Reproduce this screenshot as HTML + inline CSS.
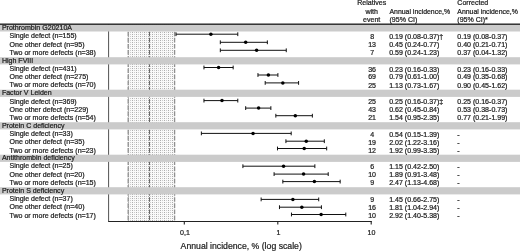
<!DOCTYPE html><html><head><meta charset="utf-8"><title>Annual incidence forest plot</title>
<style>html,body{margin:0;padding:0;background:#fff}svg{display:block}text{font-family:"Liberation Sans",Arial,sans-serif;fill:#1a1a1a;stroke:#222;stroke-width:0.22px}</style></head><body>
<svg width="520" height="252" viewBox="0 0 520 252">
<defs><pattern id="dots" x="0" y="0" width="4" height="2" patternUnits="userSpaceOnUse"><rect width="4" height="2" fill="#f9f9f9"/><rect x="0" y="0" width="1" height="1" fill="#adadad"/><rect x="2" y="0" width="1" height="1" fill="#cdcdcd"/></pattern></defs>
<rect width="520" height="252" fill="#fff"/>
<rect x="127.5" y="24.5" width="47" height="197" fill="url(#dots)"/>
<line x1="128.2" y1="25.5" x2="128.2" y2="221.5" stroke="#909090" stroke-width="1.3" stroke-dasharray="4.7,1.43"/>
<line x1="149.5" y1="25.5" x2="149.5" y2="221.5" stroke="#666" stroke-width="1.0" stroke-dasharray="4.7,1.43"/>
<line x1="174.6" y1="25.5" x2="174.6" y2="221.5" stroke="#909090" stroke-width="1.3" stroke-dasharray="4.7,1.43"/>
<line x1="108.6" y1="24.5" x2="108.6" y2="221.5" stroke="#333" stroke-width="0.85"/>
<line x1="108.2" y1="221.5" x2="371.7" y2="221.5" stroke="#222" stroke-width="1.2"/>
<line x1="184.30" y1="221" x2="184.30" y2="224.6" stroke="#222" stroke-width="1.1"/>
<line x1="277.80" y1="221" x2="277.80" y2="224.6" stroke="#222" stroke-width="1.1"/>
<line x1="371.20" y1="221" x2="371.20" y2="224.6" stroke="#222" stroke-width="1.1"/>
<rect x="0" y="24.70" width="520" height="6.80" fill="#cbcbcb"/>
<rect x="0" y="57.20" width="520" height="7.20" fill="#cbcbcb"/>
<rect x="0" y="89.70" width="520" height="7.20" fill="#cbcbcb"/>
<rect x="0" y="122.20" width="520" height="7.20" fill="#cbcbcb"/>
<rect x="0" y="154.70" width="520" height="7.20" fill="#cbcbcb"/>
<rect x="0" y="187.20" width="520" height="7.20" fill="#cbcbcb"/>
<rect x="0" y="23.5" width="520" height="1.4" fill="#222"/>
<text x="1.9" y="30.00" font-size="7.05">Prothrombin G20210A</text>
<text x="9.5" y="38.00" font-size="7.05">Single defect (n=155)</text>
<text x="372.1" y="39.00" font-size="7.05" text-anchor="middle">8</text>
<text x="389.2" y="39.00" font-size="7.05">0.19 (0.08-0.37)†</text>
<text x="457.3" y="39.00" font-size="7.05">0.19 (0.08-0.37)</text>
<line x1="176.00" y1="34.20" x2="237.79" y2="34.20" stroke="#111" stroke-width="1"/>
<line x1="176.00" y1="32.30" x2="176.00" y2="36.10" stroke="#111" stroke-width="1"/>
<line x1="237.79" y1="32.30" x2="237.79" y2="36.10" stroke="#111" stroke-width="1"/>
<circle cx="210.90" cy="34.20" r="1.75" fill="#000"/>
<text x="9.5" y="47.00" font-size="7.05">One other defect (n=95)</text>
<text x="372.1" y="47.00" font-size="7.05" text-anchor="middle">13</text>
<text x="389.2" y="47.00" font-size="7.05">0.45 (0.24-0.77)</text>
<text x="457.3" y="47.00" font-size="7.05">0.40 (0.21-0.71)</text>
<line x1="220.32" y1="42.30" x2="267.35" y2="42.30" stroke="#111" stroke-width="1"/>
<line x1="220.32" y1="40.40" x2="220.32" y2="44.20" stroke="#111" stroke-width="1"/>
<line x1="267.35" y1="40.40" x2="267.35" y2="44.20" stroke="#111" stroke-width="1"/>
<circle cx="245.68" cy="42.30" r="1.75" fill="#000"/>
<text x="9.5" y="55.00" font-size="7.05">Two or more defects (n=38)</text>
<text x="372.1" y="55.00" font-size="7.05" text-anchor="middle">7</text>
<text x="389.2" y="55.00" font-size="7.05">0.59 (0.24-1.23)</text>
<text x="457.3" y="55.00" font-size="7.05">0.37 (0.04-1.32)</text>
<line x1="220.32" y1="50.30" x2="286.25" y2="50.30" stroke="#111" stroke-width="1"/>
<line x1="220.32" y1="48.40" x2="220.32" y2="52.20" stroke="#111" stroke-width="1"/>
<line x1="286.25" y1="48.40" x2="286.25" y2="52.20" stroke="#111" stroke-width="1"/>
<circle cx="256.61" cy="50.30" r="1.75" fill="#000"/>
<text x="1.9" y="63.00" font-size="7.05">High FVIII</text>
<text x="9.5" y="71.00" font-size="7.05">Single defect (n=431)</text>
<text x="372.1" y="72.00" font-size="7.05" text-anchor="middle">36</text>
<text x="389.2" y="72.00" font-size="7.05">0.23 (0.16-0.33)</text>
<text x="457.3" y="72.00" font-size="7.05">0.23 (0.16-0.33)</text>
<line x1="203.96" y1="67.50" x2="233.17" y2="67.50" stroke="#111" stroke-width="1"/>
<line x1="203.96" y1="65.60" x2="203.96" y2="69.40" stroke="#111" stroke-width="1"/>
<line x1="233.17" y1="65.60" x2="233.17" y2="69.40" stroke="#111" stroke-width="1"/>
<circle cx="218.60" cy="67.50" r="1.75" fill="#000"/>
<text x="9.5" y="79.00" font-size="7.05">One other defect (n=275)</text>
<text x="372.1" y="79.00" font-size="7.05" text-anchor="middle">69</text>
<text x="389.2" y="79.00" font-size="7.05">0.79 (0.61-1.00)</text>
<text x="457.3" y="79.00" font-size="7.05">0.49 (0.35-0.68)</text>
<line x1="257.96" y1="75.00" x2="277.90" y2="75.00" stroke="#111" stroke-width="1"/>
<line x1="257.96" y1="73.10" x2="257.96" y2="76.90" stroke="#111" stroke-width="1"/>
<line x1="277.90" y1="73.10" x2="277.90" y2="76.90" stroke="#111" stroke-width="1"/>
<circle cx="268.39" cy="75.00" r="1.75" fill="#000"/>
<text x="9.5" y="87.00" font-size="7.05">Two or more defects (n=70)</text>
<text x="372.1" y="88.00" font-size="7.05" text-anchor="middle">25</text>
<text x="389.2" y="88.00" font-size="7.05">1.13 (0.73-1.67)</text>
<text x="457.3" y="88.00" font-size="7.05">0.90 (0.45-1.62)</text>
<line x1="265.20" y1="82.90" x2="298.59" y2="82.90" stroke="#111" stroke-width="1"/>
<line x1="265.20" y1="81.00" x2="265.20" y2="84.80" stroke="#111" stroke-width="1"/>
<line x1="298.59" y1="81.00" x2="298.59" y2="84.80" stroke="#111" stroke-width="1"/>
<circle cx="282.83" cy="82.90" r="1.75" fill="#000"/>
<text x="1.9" y="95.00" font-size="7.05">Factor V Leiden</text>
<text x="9.5" y="104.00" font-size="7.05">Single defect (n=369)</text>
<text x="372.1" y="104.00" font-size="7.05" text-anchor="middle">25</text>
<text x="389.2" y="104.00" font-size="7.05">0.25 (0.16-0.37)‡</text>
<text x="457.3" y="104.00" font-size="7.05">0.25 (0.16-0.37)</text>
<line x1="203.96" y1="100.60" x2="237.79" y2="100.60" stroke="#111" stroke-width="1"/>
<line x1="203.96" y1="98.70" x2="203.96" y2="102.50" stroke="#111" stroke-width="1"/>
<line x1="237.79" y1="98.70" x2="237.79" y2="102.50" stroke="#111" stroke-width="1"/>
<circle cx="221.97" cy="100.60" r="1.75" fill="#000"/>
<text x="9.5" y="112.00" font-size="7.05">One other defect (n=229)</text>
<text x="372.1" y="112.00" font-size="7.05" text-anchor="middle">43</text>
<text x="389.2" y="112.00" font-size="7.05">0.62 (0.45-0.84)</text>
<text x="457.3" y="112.00" font-size="7.05">0.53 (0.38-0.73)</text>
<line x1="245.68" y1="108.10" x2="270.87" y2="108.10" stroke="#111" stroke-width="1"/>
<line x1="245.68" y1="106.20" x2="245.68" y2="110.00" stroke="#111" stroke-width="1"/>
<line x1="270.87" y1="106.20" x2="270.87" y2="110.00" stroke="#111" stroke-width="1"/>
<circle cx="258.61" cy="108.10" r="1.75" fill="#000"/>
<text x="9.5" y="120.00" font-size="7.05">Two or more defects (n=54)</text>
<text x="372.1" y="120.00" font-size="7.05" text-anchor="middle">21</text>
<text x="389.2" y="120.00" font-size="7.05">1.54 (0.95-2.35)</text>
<text x="457.3" y="120.00" font-size="7.05">0.77 (0.21-1.99)</text>
<line x1="275.83" y1="115.70" x2="312.37" y2="115.70" stroke="#111" stroke-width="1"/>
<line x1="275.83" y1="113.80" x2="275.83" y2="117.60" stroke="#111" stroke-width="1"/>
<line x1="312.37" y1="113.80" x2="312.37" y2="117.60" stroke="#111" stroke-width="1"/>
<circle cx="295.32" cy="115.70" r="1.75" fill="#000"/>
<text x="1.9" y="128.00" font-size="7.05">Protein C deficiency</text>
<text x="9.5" y="136.00" font-size="7.05">Single defect (n=33)</text>
<text x="372.1" y="137.00" font-size="7.05" text-anchor="middle">4</text>
<text x="389.2" y="137.00" font-size="7.05">0.54 (0.15-1.39)</text>
<text x="457.3" y="137.00" font-size="7.05">-</text>
<line x1="201.36" y1="133.40" x2="291.19" y2="133.40" stroke="#111" stroke-width="1"/>
<line x1="201.36" y1="131.50" x2="201.36" y2="135.30" stroke="#111" stroke-width="1"/>
<line x1="291.19" y1="131.50" x2="291.19" y2="135.30" stroke="#111" stroke-width="1"/>
<circle cx="253.04" cy="133.40" r="1.75" fill="#000"/>
<text x="9.5" y="144.00" font-size="7.05">One other defect (n=35)</text>
<text x="372.1" y="145.00" font-size="7.05" text-anchor="middle">19</text>
<text x="389.2" y="145.00" font-size="7.05">2.02 (1.22-3.16)</text>
<text x="457.3" y="145.00" font-size="7.05">-</text>
<line x1="285.92" y1="141.20" x2="324.32" y2="141.20" stroke="#111" stroke-width="1"/>
<line x1="285.92" y1="139.30" x2="285.92" y2="143.10" stroke="#111" stroke-width="1"/>
<line x1="324.32" y1="139.30" x2="324.32" y2="143.10" stroke="#111" stroke-width="1"/>
<circle cx="306.27" cy="141.20" r="1.75" fill="#000"/>
<text x="9.5" y="153.00" font-size="7.05">Two or more defects (n=23)</text>
<text x="372.1" y="153.00" font-size="7.05" text-anchor="middle">12</text>
<text x="389.2" y="153.00" font-size="7.05">1.92 (0.99-3.35)</text>
<text x="457.3" y="153.00" font-size="7.05">-</text>
<line x1="277.49" y1="148.50" x2="326.68" y2="148.50" stroke="#111" stroke-width="1"/>
<line x1="277.49" y1="146.60" x2="277.49" y2="150.40" stroke="#111" stroke-width="1"/>
<line x1="326.68" y1="146.60" x2="326.68" y2="150.40" stroke="#111" stroke-width="1"/>
<circle cx="304.22" cy="148.50" r="1.75" fill="#000"/>
<text x="1.9" y="160.00" font-size="7.05">Antithrombin deficiency</text>
<text x="9.5" y="168.00" font-size="7.05">Single defect (n=25)</text>
<text x="372.1" y="169.00" font-size="7.05" text-anchor="middle">6</text>
<text x="389.2" y="169.00" font-size="7.05">1.15 (0.42-2.50)</text>
<text x="457.3" y="169.00" font-size="7.05">-</text>
<line x1="242.90" y1="166.20" x2="314.87" y2="166.20" stroke="#111" stroke-width="1"/>
<line x1="242.90" y1="164.30" x2="242.90" y2="168.10" stroke="#111" stroke-width="1"/>
<line x1="314.87" y1="164.30" x2="314.87" y2="168.10" stroke="#111" stroke-width="1"/>
<circle cx="283.54" cy="166.20" r="1.75" fill="#000"/>
<text x="9.5" y="177.00" font-size="7.05">One other defect (n=20)</text>
<text x="372.1" y="177.00" font-size="7.05" text-anchor="middle">10</text>
<text x="389.2" y="177.00" font-size="7.05">1.89 (0.91-3.48)</text>
<text x="457.3" y="177.00" font-size="7.05">-</text>
<line x1="274.09" y1="174.10" x2="328.21" y2="174.10" stroke="#111" stroke-width="1"/>
<line x1="274.09" y1="172.20" x2="274.09" y2="176.00" stroke="#111" stroke-width="1"/>
<line x1="328.21" y1="172.20" x2="328.21" y2="176.00" stroke="#111" stroke-width="1"/>
<circle cx="303.58" cy="174.10" r="1.75" fill="#000"/>
<text x="9.5" y="185.00" font-size="7.05">Two or more defects (n=15)</text>
<text x="372.1" y="185.00" font-size="7.05" text-anchor="middle">9</text>
<text x="389.2" y="185.00" font-size="7.05">2.47 (1.13-4.68)</text>
<text x="457.3" y="185.00" font-size="7.05">-</text>
<line x1="282.83" y1="181.60" x2="340.17" y2="181.60" stroke="#111" stroke-width="1"/>
<line x1="282.83" y1="179.70" x2="282.83" y2="183.50" stroke="#111" stroke-width="1"/>
<line x1="340.17" y1="179.70" x2="340.17" y2="183.50" stroke="#111" stroke-width="1"/>
<circle cx="314.38" cy="181.60" r="1.75" fill="#000"/>
<text x="1.9" y="193.00" font-size="7.05">Protein S deficiency</text>
<text x="9.5" y="201.00" font-size="7.05">Single defect (n=37)</text>
<text x="372.1" y="202.00" font-size="7.05" text-anchor="middle">9</text>
<text x="389.2" y="202.00" font-size="7.05">1.45 (0.66-2.75)</text>
<text x="457.3" y="202.00" font-size="7.05">-</text>
<line x1="261.14" y1="199.40" x2="318.71" y2="199.40" stroke="#111" stroke-width="1"/>
<line x1="261.14" y1="197.50" x2="261.14" y2="201.30" stroke="#111" stroke-width="1"/>
<line x1="318.71" y1="197.50" x2="318.71" y2="201.30" stroke="#111" stroke-width="1"/>
<circle cx="292.89" cy="199.40" r="1.75" fill="#000"/>
<text x="9.5" y="209.00" font-size="7.05">One other defect (n=40)</text>
<text x="372.1" y="210.00" font-size="7.05" text-anchor="middle">16</text>
<text x="389.2" y="210.00" font-size="7.05">1.81 (1.04-2.94)</text>
<text x="457.3" y="210.00" font-size="7.05">-</text>
<line x1="279.48" y1="207.20" x2="321.41" y2="207.20" stroke="#111" stroke-width="1"/>
<line x1="279.48" y1="205.30" x2="279.48" y2="209.10" stroke="#111" stroke-width="1"/>
<line x1="321.41" y1="205.30" x2="321.41" y2="209.10" stroke="#111" stroke-width="1"/>
<circle cx="301.84" cy="207.20" r="1.75" fill="#000"/>
<text x="9.5" y="218.00" font-size="7.05">Two or more defects (n=17)</text>
<text x="372.1" y="218.00" font-size="7.05" text-anchor="middle">10</text>
<text x="389.2" y="218.00" font-size="7.05">2.92 (1.40-5.38)</text>
<text x="457.3" y="218.00" font-size="7.05">-</text>
<line x1="291.48" y1="214.50" x2="345.79" y2="214.50" stroke="#111" stroke-width="1"/>
<line x1="291.48" y1="212.60" x2="291.48" y2="216.40" stroke="#111" stroke-width="1"/>
<line x1="345.79" y1="212.60" x2="345.79" y2="216.40" stroke="#111" stroke-width="1"/>
<circle cx="321.13" cy="214.50" r="1.75" fill="#000"/>
<text x="371.7" y="5" font-size="7.05" text-anchor="middle">Relatives</text>
<text x="371.7" y="14" font-size="7.05" text-anchor="middle">with</text>
<text x="371.7" y="22" font-size="7.05" text-anchor="middle">event</text>
<text x="389.5" y="14" font-size="6.9">Annual incidence,%</text>
<text x="389.5" y="22" font-size="7.05">(95% CI)</text>
<text x="457.3" y="5" font-size="7.05">Corrected</text>
<text x="457.3" y="14" font-size="6.9">Annual incidence,%</text>
<text x="457.3" y="22" font-size="7.05">(95% CI)*</text>
<text x="185.0" y="234.8" font-size="7.05" text-anchor="middle">0,1</text>
<text x="278.4" y="234.8" font-size="7.05" text-anchor="middle">1</text>
<text x="371.5" y="234.8" font-size="7.05" text-anchor="middle">10</text>
<text x="180.6" y="249" font-size="8.7">Annual incidence, % (log scale)</text>
</svg></body></html>
